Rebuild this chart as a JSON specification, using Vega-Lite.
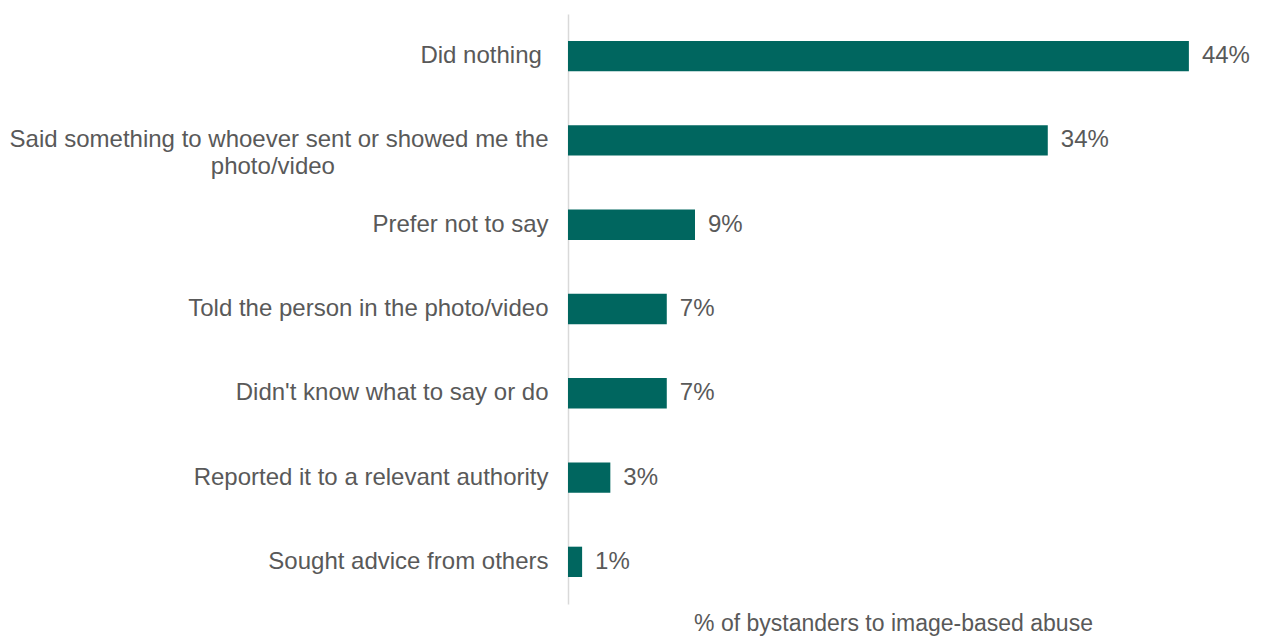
{
  "$schema": "https://vega.github.io/schema/vega-lite/v6.json",
  "width": 635,
  "height": 590,
  "autosize": {"type": "none"},
  "padding": {"left": 568, "top": 14, "right": 60, "bottom": 33},
  "background": "white",
  "config": {"view": {"stroke": null}, "font": "Liberation Sans"},
  "data": {
    "values": [
      {"response": "Did nothing", "pct": 0.44},
      {"response": "Said something to whoever sent or showed me the photo/video", "pct": 0.34},
      {"response": "Prefer not to say", "pct": 0.09},
      {"response": "Told the person in the photo/video", "pct": 0.07},
      {"response": "Didn't know what to say or do", "pct": 0.07},
      {"response": "Reported it to a relevant authority", "pct": 0.03},
      {"response": "Sought advice from others", "pct": 0.01}
    ]
  },
  "encoding": {
    "y": {
      "field": "response",
      "type": "nominal",
      "sort": null,
      "scale": {"paddingInner": 0.64, "paddingOuter": 0.32},
      "axis": {
        "title": null,
        "ticks": false,
        "domainColor": "#D9D9D9",
        "domainWidth": 1.5,
        "labelFontSize": 24,
        "labelColor": "#595959",
        "labelPadding": 20,
        "labelLimit": 600,
        "labelLineHeight": 27,
        "labelExpr": "datum.value == 'Said something to whoever sent or showed me the photo/video' ? ['Said something to whoever sent or showed me the', 'photo/video\u2007\u2007\u2007\u2007\u2007\u2007\u2007\u2007\u2007\u2007\u2007\u2007\u2007\u2007\u2007\u2007\u200b'] : datum.value == 'Did nothing' ? 'Did nothing\u00a0\u200b' : datum.value"
      }
    },
    "x": {
      "field": "pct",
      "type": "quantitative",
      "scale": {"domain": [0, 0.45], "nice": false},
      "axis": {
        "title": "% of bystanders to image-based abuse",
        "domain": false,
        "ticks": false,
        "labels": false,
        "grid": false,
        "titleFontSize": 23,
        "titleFontWeight": "normal",
        "titleColor": "#595959",
        "titleX": 325,
        "titleY": 19,
        "titleAlign": "center",
        "titleBaseline": "middle"
      }
    }
  },
  "layer": [
    {"mark": {"type": "bar", "color": "#00665F"}},
    {
      "mark": {"type": "text", "align": "left", "baseline": "middle", "dx": 13, "fontSize": 24, "color": "#595959"},
      "encoding": {"text": {"field": "pct", "type": "quantitative", "format": ".0%"}}
    }
  ]
}
